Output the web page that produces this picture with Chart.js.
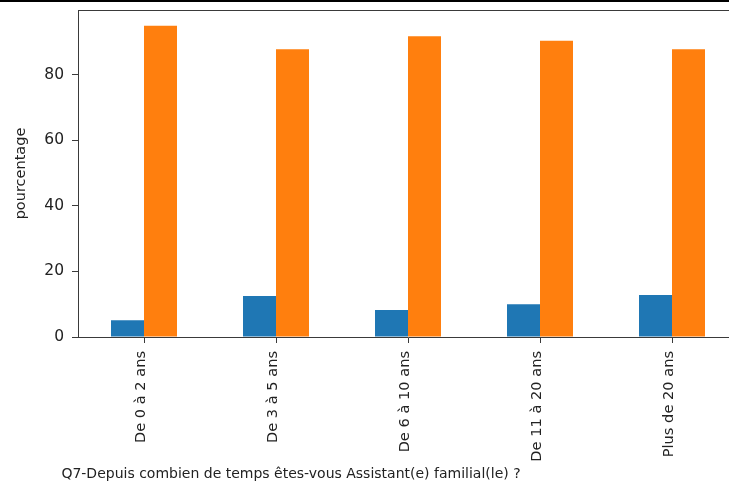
<!DOCTYPE html>
<html>
<head>
<meta charset="utf-8">
<script src="https://cdn.jsdelivr.net/npm/chart.js@4"></script>
<style>
  html, body { margin: 0; padding: 0; background: #fff; overflow: hidden; }
  #wrap { position: relative; width: 760px; height: 483px; }
  #rule { position: absolute; left: 0; top: 0; width: 729px; height: 2px; background: #000; }
</style>
</head>
<body>
<div id="wrap">
  <canvas id="chart-bar" width="760" height="483"></canvas>
  <div id="rule"></div>
</div>
<script>
const categories = ['De 0 à 2 ans', 'De 3 à 5 ans', 'De 6 à 10 ans', 'De 11 à 20 ans', 'Plus de 20 ans'];
const seriesA = [5.1, 12.5, 8.2, 10.0, 12.8];
const seriesB = [94.9, 87.7, 91.7, 90.3, 87.7];
const yTicks = [0, 20, 40, 60, 80];
const yLabel = 'pourcentage';
const xLabel = 'Q7-Depuis combien de temps êtes-vous Assistant(e) familial(le) ?';

const FONT = 'DejaVu Sans';
const SPINE = '#3a3a3a';

// axis titles and the top spine, drawn once the chart area is known
const framePlugin = {
  id: 'frame',
  afterDraw(chart) {
    const { ctx, chartArea } = chart;
    ctx.save();
    ctx.strokeStyle = SPINE;
    ctx.lineWidth = 1;
    ctx.beginPath();
    ctx.moveTo(chartArea.left, chartArea.top + 0.5);
    ctx.lineTo(chartArea.right, chartArea.top + 0.5);
    ctx.stroke();

    ctx.fillStyle = '#222';
    ctx.font = `14px "${FONT}"`;
    ctx.textAlign = 'center';
    ctx.textBaseline = 'middle';
    ctx.fillText(xLabel, 291, 474);

    ctx.font = `14.5px "${FONT}"`;
    ctx.translate(21, (chartArea.top + chartArea.bottom) / 2);
    ctx.rotate(-Math.PI / 2);
    ctx.fillText(yLabel, 0, 0);
    ctx.restore();
  }
};

new Chart(document.getElementById('chart-bar'), {
  type: 'bar',
  data: {
    labels: categories,
    datasets: [
      { data: seriesA, backgroundColor: '#1f77b4' },
      { data: seriesB, backgroundColor: '#ff7f0e' }
    ]
  },
  options: {
    responsive: false,
    animation: false,
    layout: { padding: { top: 10, right: 22, left: 0, bottom: 0 } },
    datasets: { bar: { barPercentage: 1, categoryPercentage: 0.5 } },
    plugins: { legend: { display: false }, tooltip: { enabled: false } },
    scales: {
      x: {
        offset: true,
        afterFit: s => { s.height = 146; s.paddingLeft = 0; s.paddingRight = 0; },
        border: { display: true, color: SPINE, width: 1 },
        grid: { offset: false, drawOnChartArea: false, drawTicks: true, tickLength: 6, color: SPINE },
        ticks: {
          minRotation: 90,
          maxRotation: 90,
          padding: 8,
          labelOffset: -3,
          color: '#222',
          font: { family: FONT, size: 14.6 }
        }
      },
      y: {
        min: 0,
        max: 99.7,
        afterFit: s => { s.width = 78; s.paddingTop = 0; s.paddingBottom = 0; },
        afterBuildTicks: s => { s.ticks = yTicks.map(v => ({ value: v })); },
        border: { display: true, color: SPINE, width: 1 },
        grid: { drawOnChartArea: false, drawTicks: true, tickLength: 6, color: SPINE },
        ticks: {
          padding: 8,
          color: '#222',
          font: { family: FONT, size: 15.5 }
        }
      }
    }
  },
  plugins: [framePlugin]
});
</script>
</body>
</html>
